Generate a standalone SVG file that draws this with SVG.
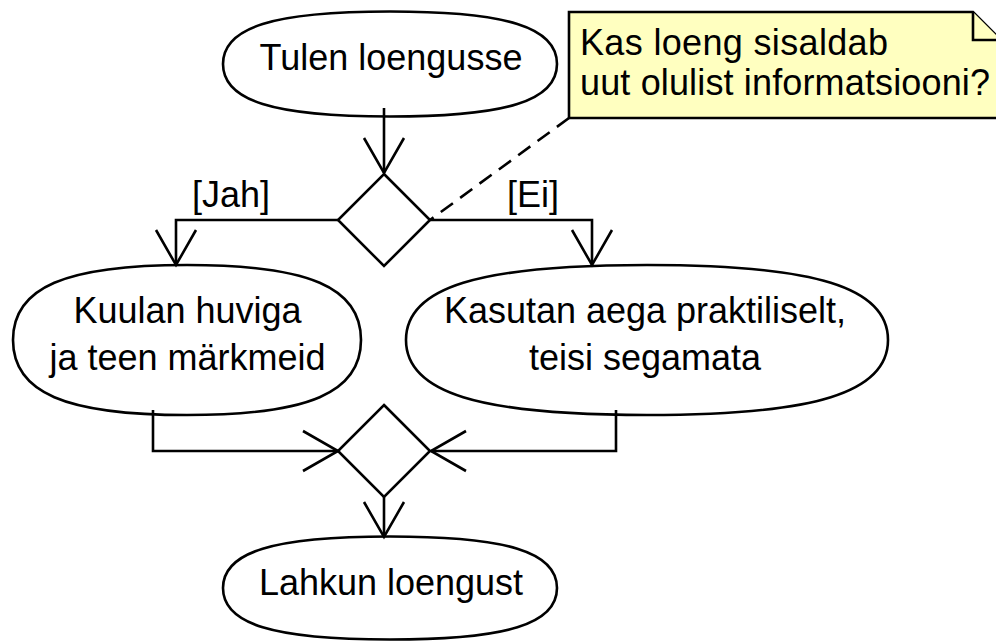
<svg xmlns="http://www.w3.org/2000/svg" width="996" height="641" viewBox="0 0 996 641">
  <style>
    .shape { fill: #ffffff; stroke: #000000; stroke-width: 2.6; }
    .note { fill: #ffffc0; stroke: #000000; stroke-width: 2.6; stroke-linejoin: miter; }
    .edge { fill: none; stroke: #000000; stroke-width: 2.6; marker-end: url(#open); }
    .link { fill: none; stroke: #000000; stroke-width: 2.6; stroke-dasharray: 15 9; }
    .label { font-family: "Liberation Sans", Arial, sans-serif; font-size: 36px; fill: #000000; }
    .mid { text-anchor: middle; }
  </style>
  <defs>
    <marker id="open" markerUnits="userSpaceOnUse" markerWidth="50" markerHeight="50" viewBox="-40 -25 50 50" refX="0" refY="0" orient="auto" overflow="visible">
      <path d="M-35,-20 L0,0 L-35,20" fill="none" stroke="#000000" stroke-width="2.6"/>
    </marker>
  </defs>

  <!-- activities -->
  <g id="start">
    <path class="shape" d="M223,64 C223,27.25 273.1,11.5 390,11.5 C506.9,11.5 557,27.25 557,64 C557,100.75 506.9,116.5 390,116.5 C273.1,116.5 223,100.75 223,64 Z"/>
    <text class="label mid" x="391" y="70">Tulen loengusse</text>
  </g>

  <g id="decision">
    <polygon class="shape" points="384,174 430,220 384,266 338,220"/>
  </g>

  <g id="listen">
    <path class="shape" d="M13,340 C13,287.5 65.2,265 187,265 C308.8,265 361,287.5 361,340 C361,392.5 308.8,415 187,415 C65.2,415 13,392.5 13,340 Z"/>
    <text class="label mid" x="187.5" y="323">Kuulan huviga</text>
    <text class="label mid" x="187.5" y="370">ja teen märkmeid</text>
  </g>

  <g id="practical">
    <path class="shape" d="M406,340 C406,287.5 478.3,265 647,265 C815.7,265 888,287.5 888,340 C888,392.5 815.7,415 647,415 C478.3,415 406,392.5 406,340 Z"/>
    <text class="label mid" x="645" y="323">Kasutan aega praktiliselt,</text>
    <text class="label mid" x="645" y="370">teisi segamata</text>
  </g>

  <g id="merge">
    <polygon class="shape" points="384,405 430,451 384,497 338,451"/>
  </g>

  <g id="end">
    <path class="shape" d="M223,588 C223,551.95 273.1,536.5 390,536.5 C506.9,536.5 557,551.95 557,588 C557,624.05 506.9,639.5 390,639.5 C273.1,639.5 223,624.05 223,588 Z"/>
    <text class="label mid" x="391" y="595">Lahkun loengust</text>
  </g>

  <g id="question">
    <path class="note" d="M569,12 L973,12 L1001,40 L1001,118 L569,118 Z"/>
    <path class="note" d="M973,12 L973,40 L1001,40"/>
    <text class="label" x="580" y="55" textLength="308" lengthAdjust="spacing">Kas loeng sisaldab</text>
    <text class="label" x="580" y="95" textLength="410" lengthAdjust="spacing">uut olulist informatsiooni?</text>
  </g>

  <!-- control flows -->
  <g id="connectors">
    <path class="edge" d="M384,108 L384,173"/>
    <path class="edge" d="M338,220 L176,220 L176,265"/>
    <path class="edge" d="M430,220 L592,220 L592,265"/>
    <path class="edge" d="M153,410 L153,451 L338,451"/>
    <path class="edge" d="M616,410 L616,451 L431,451"/>
    <path class="edge" d="M384,497 L384,537"/>
    <path class="link" d="M569,118 L430,220"/>
    <text class="label" x="192" y="207">[Jah]</text>
    <text class="label" x="507" y="207">[Ei]</text>
  </g>
</svg>
